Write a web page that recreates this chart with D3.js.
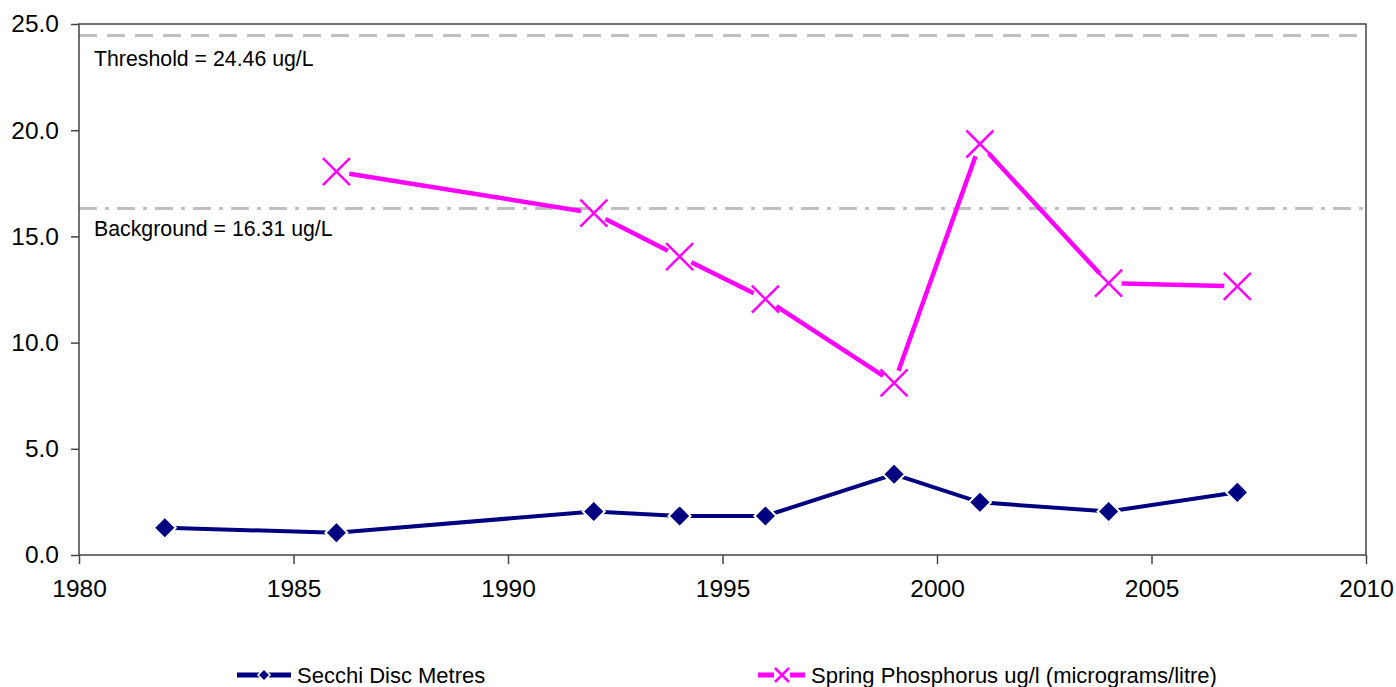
<!DOCTYPE html>
<html><head><meta charset="utf-8">
<script src="https://cdn.jsdelivr.net/npm/d3@7"></script>
<style>body{margin:0;background:#fff}svg{display:block;font-family:"Liberation Sans",Arial,sans-serif}</style>
</head><body><svg id="c" width="1396" height="687"></svg>
<script>
const secchiYears = [1982, 1986, 1992, 1994, 1996, 1999, 2001, 2004, 2007];
const secchiValues = [1.28, 1.05, 2.05, 1.84, 1.84, 3.8, 2.48, 2.05, 2.95];
const phosYears = [1986, 1992, 1994, 1996, 1999, 2001, 2004, 2007];
const phosValues = [18.05, 16.1, 14.05, 12.05, 8.1, 19.35, 12.8, 12.65];
const xTicks = [1980, 1985, 1990, 1995, 2000, 2005, 2010];
const yTicks = [0, 5, 10, 15, 20, 25];
const thresholdValue = 24.46, backgroundValue = 16.31;
const thresholdLabel = "Threshold = 24.46 ug/L";
const backgroundLabel = "Background = 16.31 ug/L";
const legendLabels = ["Secchi Disc Metres", "Spring Phosphorus ug/l (micrograms/litre)"];

const svg = d3.select("#c");
const L = 79, R = 1366, T = 24, B = 555;
const x = d3.scaleLinear().domain([1980, 2010]).range([L, R]);
const y = d3.scaleLinear().domain([0, 25]).range([B, T]);
const frameColor = "#444";

// reference lines
svg.append("line").attr("x1", L).attr("x2", R).attr("y1", y(thresholdValue)).attr("y2", y(thresholdValue))
  .attr("stroke", "#c0c0c0").attr("stroke-width", 3).attr("stroke-dasharray", "18,10");
svg.append("line").attr("x1", L).attr("x2", R).attr("y1", y(backgroundValue)).attr("y2", y(backgroundValue))
  .attr("stroke", "#c0c0c0").attr("stroke-width", 3).attr("stroke-dasharray", "18,8,4,8");
svg.append("text").attr("x", 94).attr("y", y(thresholdValue) + 31).attr("font-size", 21.3).text(thresholdLabel);
svg.append("text").attr("x", 94).attr("y", y(backgroundValue) + 27).attr("font-size", 21.3).text(backgroundLabel);

// axes
const yAxis = d3.axisLeft(y).tickValues(yTicks).tickFormat(d3.format(".1f")).tickSize(8).tickPadding(12);
const gy = svg.append("g").attr("transform", `translate(${L},0)`).call(yAxis);
const xAxis = d3.axisBottom(x).tickValues(xTicks).tickFormat(d3.format("d")).tickSize(9).tickPadding(16);
const gx = svg.append("g").attr("transform", `translate(0,${B})`).call(xAxis);
[gx, gy].forEach(g => {
  g.select(".domain").remove();
  g.selectAll("line").attr("stroke", frameColor).attr("stroke-width", 1.5);
  g.selectAll("text").attr("font-size", 24.5).attr("fill", "#000").attr("font-family", '"Liberation Sans",Arial,sans-serif');
});
// frame
svg.append("rect").attr("x", L).attr("y", T).attr("width", R - L).attr("height", B - T)
  .attr("fill", "none").attr("stroke", frameColor).attr("stroke-width", 1.5);

// Secchi series
const sPts = secchiYears.map((d, i) => [x(d), y(secchiValues[i])]);
svg.append("path").attr("d", d3.line()(sPts)).attr("fill", "none").attr("stroke", "#000080").attr("stroke-width", 4);
const diamond = r => `M0,${-r}L${r},0L0,${r}L${-r},0Z`;
svg.selectAll(".sm").data(sPts).join("path").attr("class", "sm")
  .attr("d", diamond(11)).attr("transform", d => `translate(${d[0]},${d[1]})`)
  .attr("fill", "#000080").attr("stroke", "#fff").attr("stroke-width", 2);

// Phosphorus series (segments stop short of markers)
const pPts = phosYears.map((d, i) => [x(d), y(phosValues[i])]);
const gap = 13;
const segs = d3.pairs(pPts).map(([a, b]) => {
  const dx = b[0] - a[0], dy = b[1] - a[1], len = Math.hypot(dx, dy);
  const ux = dx / len, uy = dy / len;
  return [[a[0] + ux * gap, a[1] + uy * gap], [b[0] - ux * gap, b[1] - uy * gap]];
});
svg.selectAll(".ps").data(segs).join("path").attr("class", "ps")
  .attr("d", d => d3.line()(d)).attr("stroke", "#ff00ff").attr("stroke-width", 4.5).attr("fill", "none");
const cross = r => `M${-r},${-r}L${r},${r}M${-r},${r}L${r},${-r}`;
svg.selectAll(".pm").data(pPts).join("path").attr("class", "pm")
  .attr("d", cross(13.5)).attr("transform", d => `translate(${d[0]},${d[1]})`)
  .attr("stroke", "#ff00ff").attr("stroke-width", 2.5).attr("fill", "none");

// legend
const ly = 675;
const lg1 = svg.append("g");
lg1.append("line").attr("x1", 237).attr("x2", 291).attr("y1", ly).attr("y2", ly).attr("stroke", "#000080").attr("stroke-width", 5);
lg1.append("path").attr("d", diamond(6)).attr("transform", `translate(264,${ly})`).attr("fill", "#000080").attr("stroke", "#fff").attr("stroke-width", 1.5);
lg1.append("text").attr("x", 297).attr("y", ly + 8).attr("font-size", 22).text(legendLabels[0]);
const lg2 = svg.append("g");
lg2.append("line").attr("x1", 758).attr("x2", 805).attr("y1", ly).attr("y2", ly).attr("stroke", "#ff00ff").attr("stroke-width", 5);
lg2.append("rect").attr("x", 774).attr("y", ly - 8).attr("width", 16).attr("height", 16).attr("fill", "#fff");
lg2.append("path").attr("d", cross(7)).attr("transform", `translate(782,${ly})`).attr("stroke", "#ff00ff").attr("stroke-width", 2.5).attr("fill", "none");
lg2.append("text").attr("x", 811).attr("y", ly + 8).attr("font-size", 22).text(legendLabels[1]);
</script></body></html>
